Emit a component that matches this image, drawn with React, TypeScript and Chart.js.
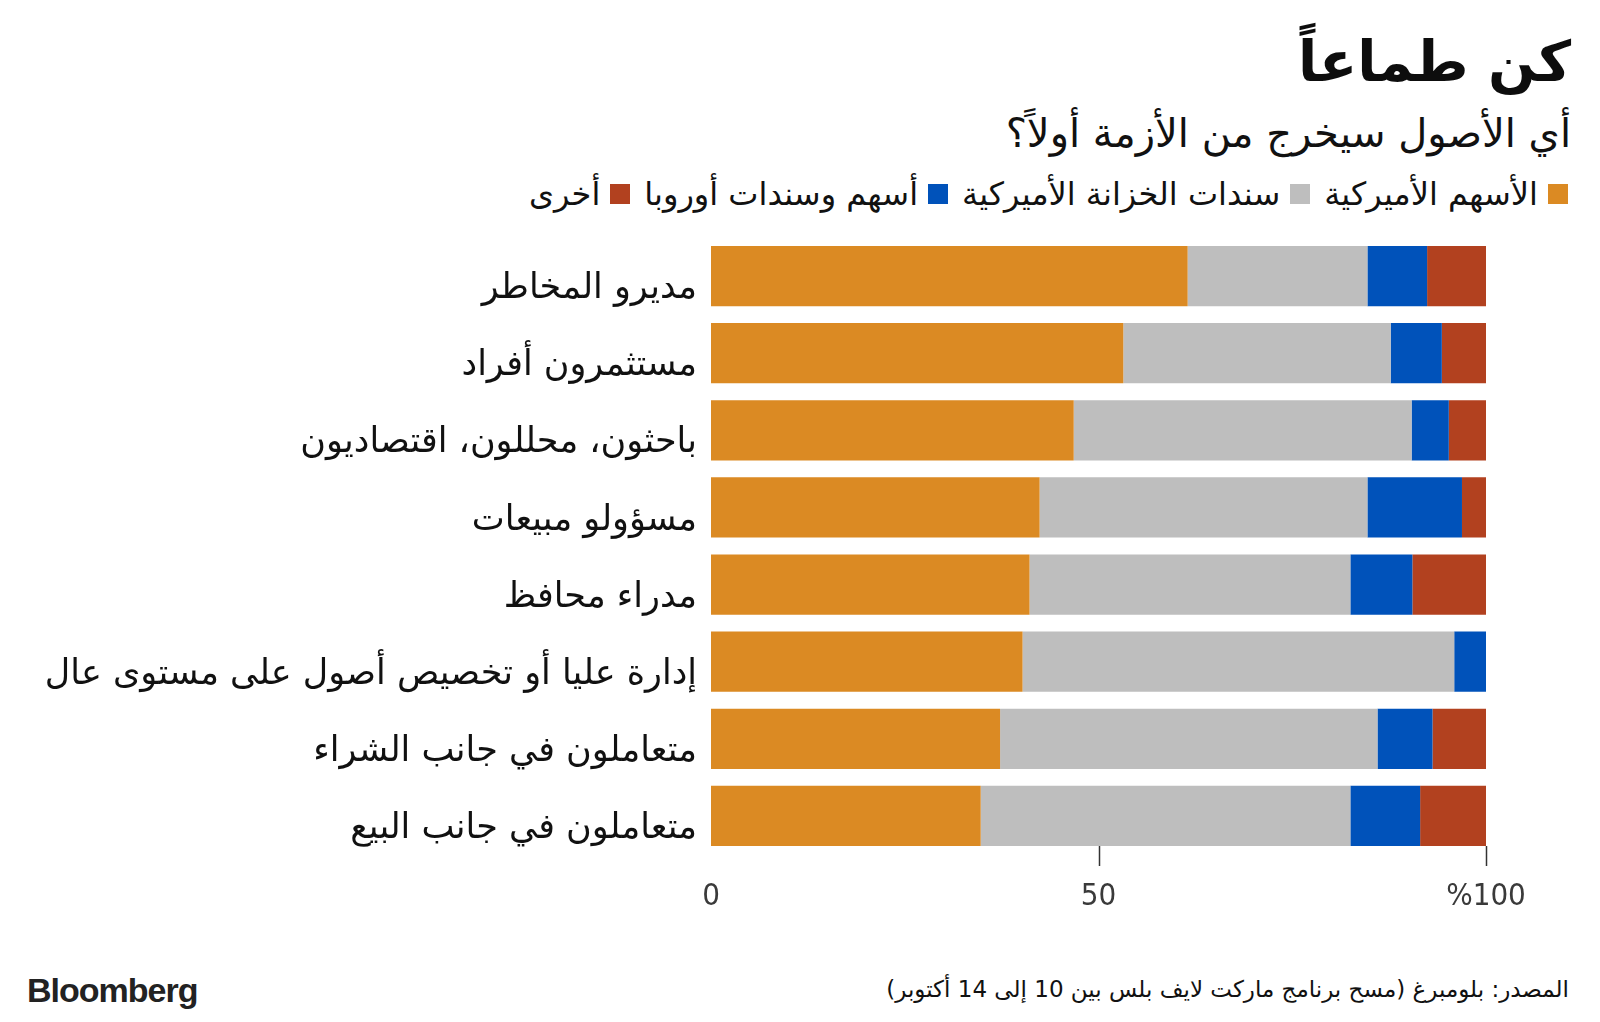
import React, { useEffect, useRef } from "react";
import { Chart, registerables } from "chart.js";

Chart.register(...registerables);

const categories = [
  "مديرو المخاطر",
  "مستثمرون أفراد",
  "باحثون، محللون، اقتصاديون",
  "مسؤولو مبيعات",
  "مدراء محافظ",
  "إدارة عليا أو تخصيص أصول على مستوى عال",
  "متعاملون في جانب الشراء",
  "متعاملون في جانب البيع",
];
const usStocks = [61.5, 53.2, 46.8, 42.4, 41.1, 40.2, 37.3, 34.8];
const usTreasuries = [23.2, 34.5, 43.6, 42.3, 41.4, 55.7, 48.7, 47.7];
const europeAssets = [7.7, 6.6, 4.8, 12.2, 8.0, 4.1, 7.1, 9.0];
const otherAssets = [7.6, 5.7, 4.8, 3.1, 9.5, 0, 6.9, 8.5];
const seriesNames = [
  "الأسهم الأميركية",
  "سندات الخزانة الأميركية",
  "أسهم وسندات أوروبا",
  "أخرى",
];
const seriesColors = ["#DB8A23", "#BEBEBE", "#0052BA", "#B2411F"];
const xTickValues = [0, 50, 100];
const xTickLabels = ["0", "50", "%100"];
const markedTicks = [50, 100];

const TITLE = "كن طماعاً";
const SUBTITLE = "أي الأصول سيخرج من الأزمة أولاً؟";
const SOURCE = "المصدر: بلومبرغ (مسح برنامج ماركت لايف بلس بين 10 إلى 14 أكتوبر)";

const ARABIC_FONT = "'DejaVu Sans', 'Noto Sans', sans-serif";

const tickMarksPlugin = {
  id: "tickMarks",
  afterDatasetsDraw(chart: any) {
    const xScale = chart.scales.x;
    const meta = chart.getDatasetMeta(0);
    const last = meta.data[meta.data.length - 1];
    if (!last) return;
    const props = last.getProps(["y", "height"], true);
    const top = props.y + props.height / 2;
    const ctx = chart.ctx;
    ctx.save();
    ctx.strokeStyle = "#333";
    ctx.lineWidth = 1.5;
    for (const v of markedTicks) {
      const x = Math.round(xScale.getPixelForValue(v)) + 0.5;
      ctx.beginPath();
      ctx.moveTo(x, top);
      ctx.lineTo(x, top + 20);
      ctx.stroke();
    }
    ctx.restore();
  },
};

function BarChart() {
  const ref = useRef<HTMLCanvasElement | null>(null);
  useEffect(() => {
    if (!ref.current) return;
    const data = [usStocks, usTreasuries, europeAssets, otherAssets];
    const chart = new Chart(ref.current, {
      type: "bar",
      data: {
        labels: categories,
        datasets: data.map((d, i) => ({
          label: seriesNames[i],
          data: d,
          backgroundColor: seriesColors[i],
          borderWidth: 0,
          barPercentage: 0.78,
          categoryPercentage: 1,
        })),
      },
      options: {
        indexAxis: "y",
        responsive: false,
        animation: false,
        devicePixelRatio: 1,
        layout: { padding: { top: 9.5, right: 114, left: 0, bottom: 0 } },
        plugins: {
          legend: { display: false },
          tooltip: { enabled: false },
          title: { display: false },
        },
        scales: {
          x: {
            type: "linear",
            stacked: true,
            min: 0,
            max: 100,
            afterBuildTicks: (axis: any) => {
              axis.ticks = xTickValues.map((v) => ({ value: v }));
            },
            afterFit: (axis: any) => {
              axis.height = 83.5;
              axis.paddingLeft = 0;
              axis.paddingRight = 0;
            },
            grid: { display: false, drawTicks: false },
            border: { display: false },
            ticks: {
              padding: 24,
              color: "#3a3a3a",
              font: { family: "'DejaVu Sans Condensed', 'Liberation Sans Narrow', sans-serif", size: 31 },
              callback: (v: any) => {
                const i = xTickValues.indexOf(Number(v));
                return i >= 0 ? xTickLabels[i] : "";
              },
              maxRotation: 0,
            },
          },
          y: {
            type: "category",
            stacked: true,
            afterFit: (axis: any) => {
              axis.width = 711;
              axis.paddingTop = 0;
              axis.paddingBottom = 0;
            },
            grid: { display: false, drawTicks: false },
            border: { display: false },
            ticks: {
              padding: 14,
              labelOffset: 13,
              color: "#111",
              font: { family: ARABIC_FONT, size: 35 },
            },
          },
        },
      },
      plugins: [tickMarksPlugin],
    } as any);
    return () => chart.destroy();
  }, []);
  return <canvas ref={ref} width={1600} height={710} style={{ display: "block" }} />;
}

export default function App() {
  return (
    <div
      style={{
        position: "fixed",
        top: 0,
        left: 0,
        width: 1600,
        height: 1022,
        background: "#fff",
        fontFamily: ARABIC_FONT,
        color: "#111",
        overflow: "hidden",
      }}
    >
      <div
        dir="rtl"
        style={{
          position: "absolute",
          right: 29,
          top: 24,
          fontSize: 56,
          lineHeight: "76px",
          fontWeight: 900,
          color: "#0d0d0d",
          whiteSpace: "nowrap",
        }}
      >
        {TITLE}
      </div>
      <div
        dir="rtl"
        style={{
          position: "absolute",
          right: 29,
          top: 108,
          fontSize: 40,
          lineHeight: "50px",
          color: "#111",
          whiteSpace: "nowrap",
        }}
      >
        {SUBTITLE}
      </div>
      <div
        dir="rtl"
        style={{
          position: "absolute",
          right: 32,
          top: 174,
          display: "flex",
          flexDirection: "row",
          alignItems: "center",
          gap: 14,
          fontSize: 32,
          lineHeight: "40px",
          whiteSpace: "nowrap",
        }}
      >
        {seriesNames.map((n, i) => (
          <div key={n} style={{ display: "flex", alignItems: "center" }}>
            <span
              style={{
                display: "inline-block",
                width: 20,
                height: 20,
                background: seriesColors[i],
                marginLeft: 10,
              }}
            />
            <span>{n}</span>
          </div>
        ))}
      </div>
      <div style={{ position: "absolute", left: 0, top: 228, width: 1600, height: 710 }}>
        <BarChart />
      </div>
      <div
        style={{
          position: "absolute",
          left: 27,
          top: 968,
          fontFamily: "'Liberation Sans', Arial, sans-serif",
          fontWeight: 700,
          fontSize: 34,
          lineHeight: "44px",
          letterSpacing: -1,
          color: "#222",
        }}
      >
        Bloomberg
      </div>
      <div
        dir="rtl"
        style={{
          position: "absolute",
          right: 31,
          top: 974,
          fontSize: 23,
          lineHeight: "30px",
          color: "#111",
          whiteSpace: "nowrap",
        }}
      >
        {SOURCE}
      </div>
    </div>
  );
}
